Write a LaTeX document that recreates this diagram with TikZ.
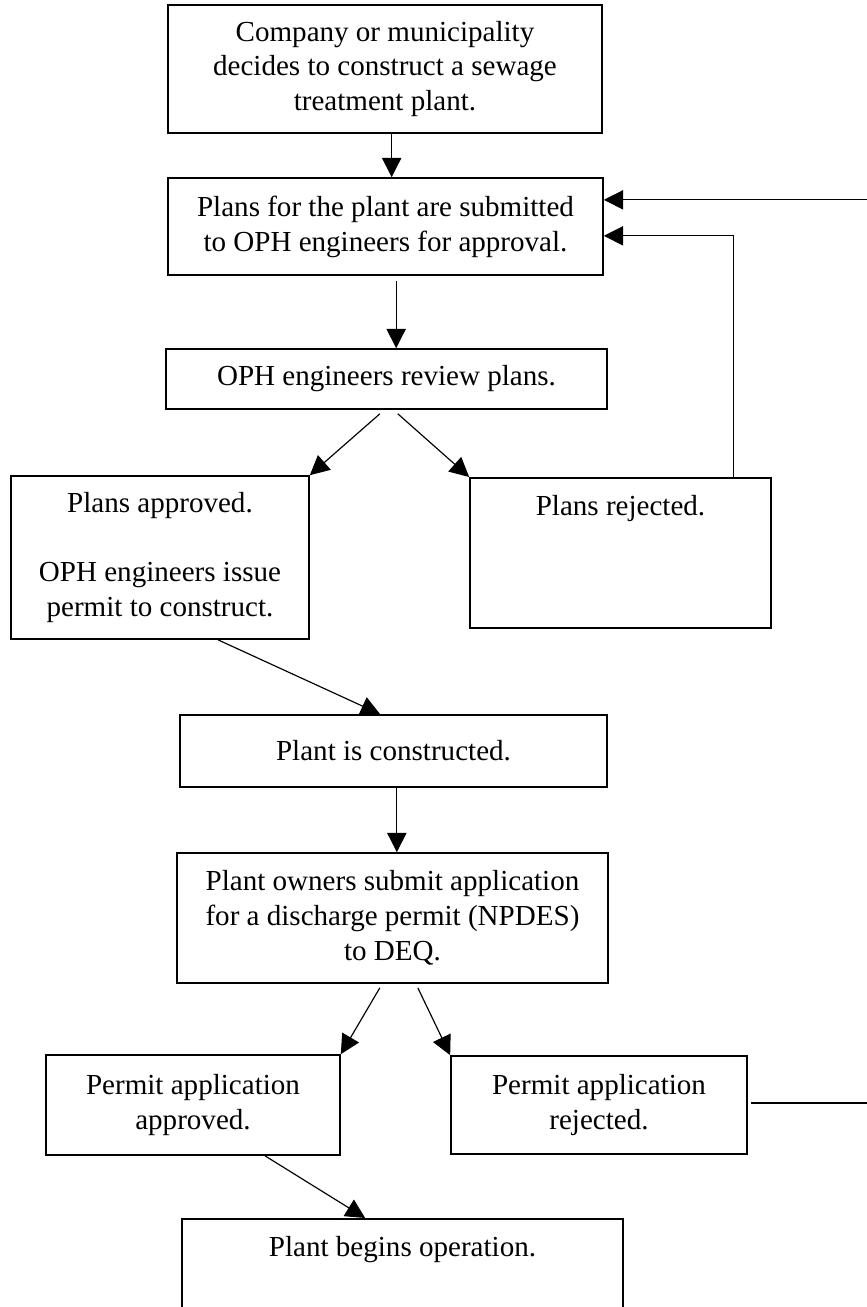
\documentclass[tikz,border=0pt]{standalone}
\usepackage{fontspec}
\setmainfont{Liberation Serif}
\usetikzlibrary{arrows.meta}
\tikzset{
  box/.style={
    draw=black,
    line width=0.7pt,
    align=center,
    inner sep=0pt,
    font=\fontsize{12.4}{14.9}\selectfont
  },
  topbox/.style={
    box,
    anchor=north,
    text height=0.56cm,
    text depth=#1
  },
  flow/.style={
    line width=0.5pt,
    -{Triangle[length=2.9mm,width=2.9mm]}
  }
}

\begin{document}
\begin{tikzpicture}[x=0.015cm, y=-0.015cm]
  \useasboundingbox (0,0) rectangle (867,1307);
  \clip (0,0) rectangle (867,1307);
  % Nodes
  \node[box, minimum width=6.51cm, minimum height=1.92cm] (b1) at (385,69)
    {Company or municipality\\decides to construct a sewage\\treatment plant.};
  \node[box, minimum width=6.525cm, minimum height=1.455cm] (b2) at (385.5,226.5)
    {Plans for the plant are submitted\\to OPH engineers for approval.};
  \node[box, minimum width=6.615cm, minimum height=0.9cm] (b3) at (386.5,379)
    {OPH engineers review plans.};
  \node[box, minimum width=4.47cm, minimum height=2.445cm] (b4) at (160,557.5)
    {Plans approved.\\[14.9pt]OPH engineers issue\\permit to construct.};
  \node[topbox=1.69cm, minimum width=4.515cm] (b5) at (620.5,477)
    {Plans rejected.};
  \node[box, minimum width=6.405cm, minimum height=1.08cm] (b6) at (393.5,751)
    {Plant is constructed.};
  \node[box, minimum width=6.465cm, minimum height=1.95cm] (b7) at (392.5,918)
    {Plant owners submit application\\for a discharge permit (NPDES)\\to DEQ.};
  \node[box, minimum width=4.41cm, minimum height=1.5cm] (b8) at (193,1105)
    {Permit application\\approved.};
  \node[box, minimum width=4.44cm, minimum height=1.47cm] (b9) at (599,1105)
    {Permit application\\rejected.};
  \node[topbox=1.3cm, minimum width=6.615cm] (b10) at (402.5,1218)
    {Plant begins operation.};
  \coordinate (loop) at (900,200);
  % Edges
  \draw[flow] ([xshift=0.1cm]b1.south) -- ([xshift=0.1cm]b1.south |- b2.north);
  \draw[flow] ([xshift=0.16cm,yshift=-0.075cm]b2.south) -- ([xshift=0.16cm]b2.south |- b3.north);
  \draw[flow] ([xshift=-0.1cm,yshift=-0.06cm]b3.south) -- (b4.north east);
  \draw[flow] ([xshift=0.17cm,yshift=-0.06cm]b3.south) -- (b5.north west);
  \draw[flow] ([xshift=1.69cm]b5.north) |- ([yshift=-0.14cm]b2.east);
  \draw[flow] ([xshift=0.87cm]b4.south) -- ([xshift=-0.2cm]b6.north);
  \draw[flow] ([xshift=0.05cm]b6.south) -- ([xshift=0.05cm]b6.south |- b7.north);
  \draw[flow] ([xshift=-0.19cm,yshift=-0.06cm]b7.south) -- (b8.north east);
  \draw[flow] ([xshift=0.38cm,yshift=-0.06cm]b7.south) -- (b9.north west);
  \draw[flow] ([xshift=1.08cm]b8.south) -- ([xshift=-0.56cm]b10.north);
  \draw[flow] ([xshift=0.05cm,yshift=0.03cm]b9.east) -- ([yshift=0.03cm]b9.east -| loop)
    |- ([yshift=0.4cm]b2.east);

\end{tikzpicture}
\end{document}
